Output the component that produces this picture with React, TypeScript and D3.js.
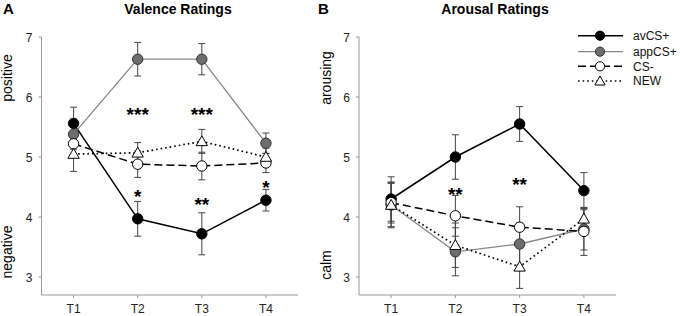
import React from "react";
import * as d3 from "d3";

const times = ["T1", "T2", "T3", "T4"];
const yTicks = [3, 4, 5, 6, 7];
const seriesNames = ["avCS+", "appCS+", "CS-", "NEW"];

// Valence
const valAv = [5.56, 3.97, 3.72, 4.28];
const valAvErr = [0.27, 0.29, 0.35, 0.18];
const valApp = [5.38, 6.63, 6.63, 5.23];
const valAppErr = [0.25, 0.28, 0.26, 0.17];
const valCS = [5.22, 4.88, 4.85, 4.9];
const valCSErr = [0.22, 0.22, 0.23, 0.16];
const valNew = [5.05, 5.07, 5.26, 5.0];
const valNewErr = [0.29, 0.17, 0.2, 0.15];

// Arousal
const arAv = [4.3, 5.0, 5.55, 4.44];
const arAvErr = [0.37, 0.37, 0.29, 0.3];
const arApp = [4.2, 3.42, 3.55, 3.8];
const arAppErr = [0.38, 0.4, 0.35, 0.35];
const arCS = [4.24, 4.02, 3.83, 3.76];
const arCSErr = [0.34, 0.34, 0.34, 0.4];
const arNew = [4.2, 3.53, 3.17, 3.97];
const arNewErr = [0.36, 0.37, 0.36, 0.15];

// significance markers: time index, value (center), label
const sigValence = [
  { t: 1, v: 5.78, s: "***" },
  { t: 2, v: 5.78, s: "***" },
  { t: 1, v: 4.42, s: "*" },
  { t: 2, v: 4.28, s: "**" },
  { t: 3, v: 4.57, s: "*" },
];
const sigArousal = [
  { t: 1, v: 4.45, s: "**" },
  { t: 2, v: 4.62, s: "**" },
];

type Style = {
  stroke: string;
  width: number;
  dash: string;
  fill: string;
  mstroke: string;
  shape: "circle" | "triangle";
};
const styles: Style[] = [
  { stroke: "#000", width: 1.5, dash: "", fill: "#000", mstroke: "#000", shape: "circle" },
  { stroke: "#888", width: 1.3, dash: "", fill: "#6e6e6e", mstroke: "#333", shape: "circle" },
  { stroke: "#000", width: 1.5, dash: "8,4", fill: "#fff", mstroke: "#000", shape: "circle" },
  { stroke: "#000", width: 1.7, dash: "1.6,3", fill: "#fff", mstroke: "#000", shape: "triangle" },
];

const FONT = "Arial, 'Liberation Sans', sans-serif";
const triPath = d3.symbol().type(d3.symbolTriangle).size(56)() as string;
const triPathSmall = d3.symbol().type(d3.symbolTriangle).size(46)() as string;

function Marker({ x, y, st, small }: { x: number; y: number; st: Style; small?: boolean }) {
  if (st.shape === "triangle") {
    return (
      <path
        d={small ? triPathSmall : triPath}
        transform={`translate(${x},${y + 1})`}
        fill={st.fill}
        stroke={st.mstroke}
        strokeWidth={1}
      />
    );
  }
  return <circle cx={x} cy={y} r={small ? 4.6 : 5.2} fill={st.fill} stroke={st.mstroke} strokeWidth={1} />;
}

function Panel({
  x0,
  x1,
  data,
  errs,
  sig,
  title,
  titleX,
  letter,
  letterX,
  topLabel,
  bottomLabel,
  sideX,
  topY,
  bottomY,
}: any) {
  const x = d3.scaleLinear().domain([0.5, 4.5]).range([x0, x1]);
  const y = d3.scaleLinear().domain([2.7, 7]).range([295, 37]);
  const line = d3
    .line<number>()
    .x((_, i) => x(i + 1))
    .y((d) => y(d));
  return (
    <g fontFamily={FONT}>
      <text x={letterX} y={14} fontSize={15} fontWeight="bold">
        {letter}
      </text>
      <text x={titleX} y={14} fontSize={14} fontWeight="bold" textAnchor="middle">
        {title}
      </text>
      <text transform={`translate(${sideX},${topY}) rotate(-90)`} fontSize={14} textAnchor="middle">
        {topLabel}
      </text>
      <text transform={`translate(${sideX},${bottomY}) rotate(-90)`} fontSize={14} textAnchor="middle">
        {bottomLabel}
      </text>
      {/* axes */}
      <line x1={x0} x2={x0} y1={y(7)} y2={y(2.7)} stroke="#999" strokeWidth={1} />
      <line x1={x0} x2={x1} y1={y(2.7)} y2={y(2.7)} stroke="#999" strokeWidth={1} />
      {yTicks.map((t) => (
        <g key={t}>
          <line x1={x0 - 3} x2={x0} y1={y(t)} y2={y(t)} stroke="#999" />
          <text x={x0 - 9} y={y(t) + 4.5} fontSize={12} textAnchor="end" fill="#222">
            {t}
          </text>
        </g>
      ))}
      {times.map((t, i) => (
        <g key={t}>
          <line x1={x(i + 1)} x2={x(i + 1)} y1={y(2.7)} y2={y(2.7) + 3} stroke="#999" />
          <text x={x(i + 1)} y={313} fontSize={12} textAnchor="middle" fill="#222">
            {t}
          </text>
        </g>
      ))}
      {/* lines */}
      {data.map((d: number[], k: number) => (
        <path
          key={k}
          d={line(d) as string}
          fill="none"
          stroke={styles[k].stroke}
          strokeWidth={styles[k].width}
          strokeDasharray={styles[k].dash}
        />
      ))}
      {/* error bars */}
      {data.map((d: number[], k: number) =>
        d.map((v, i) => {
          const e = errs[k][i];
          const cx = x(i + 1);
          return (
            <g key={`${k}-${i}`} stroke="#444" strokeWidth={1}>
              <line x1={cx} x2={cx} y1={y(v + e)} y2={y(v - e)} />
              <line x1={cx - 3.5} x2={cx + 3.5} y1={y(v + e)} y2={y(v + e)} />
              <line x1={cx - 3.5} x2={cx + 3.5} y1={y(v - e)} y2={y(v - e)} />
            </g>
          );
        })
      )}
      {/* markers */}
      {data.map((d: number[], k: number) =>
        d.map((v, i) => <Marker key={`m${k}-${i}`} x={x(i + 1)} y={y(v)} st={styles[k]} />)
      )}
      {/* significance */}
      {sig.map((s: any, i: number) => (
        <text key={i} x={x(s.t + 1)} y={y(s.v) + 11} fontSize={19} fontWeight="bold" textAnchor="middle">
          {s.s}
        </text>
      ))}
    </g>
  );
}

function Legend() {
  const rows = [35.7, 51.7, 66.3, 81];
  return (
    <g fontFamily={FONT}>
      {seriesNames.map((n, k) => (
        <g key={n}>
          <line
            x1={578}
            x2={623}
            y1={rows[k]}
            y2={rows[k]}
            stroke={styles[k].stroke}
            strokeWidth={styles[k].width}
            strokeDasharray={styles[k].dash}
          />
          <Marker x={600} y={rows[k]} st={styles[k]} small />
          <text x={633} y={rows[k] + 4.3} fontSize={12} fill="#111">
            {n}
          </text>
        </g>
      ))}
    </g>
  );
}

export default function App() {
  return (
    <svg
      width={680}
      height={316}
      style={{ position: "absolute", left: 0, top: 0, background: "#fff" }}
    >
      <rect width={680} height={316} fill="#fff" />
      <Panel
        x0={41.5}
        x1={298}
        data={[valAv, valApp, valCS, valNew]}
        errs={[valAvErr, valAppErr, valCSErr, valNewErr]}
        sig={sigValence}
        title="Valence Ratings"
        titleX={178}
        letter="A"
        letterX={3}
        topLabel="positive"
        bottomLabel="negative"
        sideX={12}
        topY={78}
        bottomY={252}
      />
      <Panel
        x0={359}
        x1={616}
        data={[arAv, arApp, arCS, arNew]}
        errs={[arAvErr, arAppErr, arCSErr, arNewErr]}
        sig={sigArousal}
        title="Arousal Ratings"
        titleX={495}
        letter="B"
        letterX={318}
        topLabel="arousing"
        bottomLabel="calm"
        sideX={331}
        topY={78}
        bottomY={265}
      />
      <Legend />
    </svg>
  );
}
